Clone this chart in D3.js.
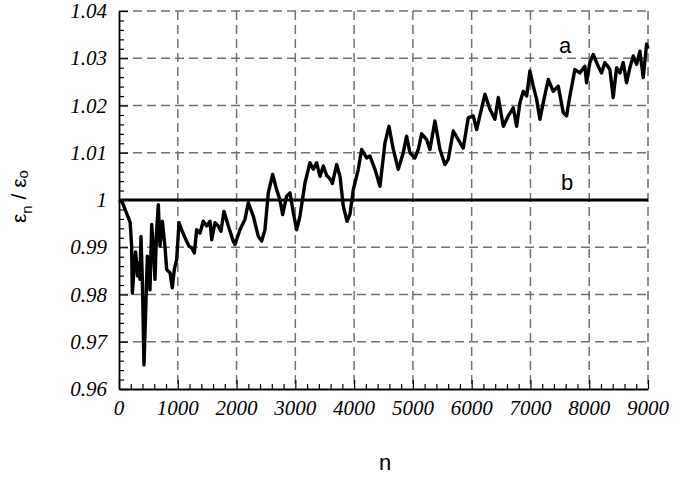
<!DOCTYPE html>
<html>
<head>
<meta charset="utf-8">
<script src="https://cdn.jsdelivr.net/npm/d3@7"></script>
<style>
  body { margin: 0; background: #fff; }
  svg text.tick-label { font-family: 'Times New Roman'; font-style: italic; font-size: 21px; }
  svg text.sans-label { font-family: 'Liberation Sans'; }
</style>
</head>
<body>
<div id="chart"></div>
<script>
var nValues = [0, 50, 160, 190, 215, 227, 260, 283, 317, 340, 357, 374, 397, 425, 453, 482, 527, 556, 584, 612,
    641, 669, 697, 737, 782, 811, 868, 907, 941, 981, 1021, 1066, 1123, 1191, 1236, 1282, 1321, 1378, 1434, 1492,
    1548, 1577, 1633, 1689, 1735, 1786, 1860, 1944, 1973, 2058, 2143, 2200, 2285, 2370, 2427, 2483, 2540, 2614,
    2682, 2739, 2784, 2852, 2909, 2966, 3022, 3079, 3164, 3249, 3306, 3362, 3419, 3476, 3533, 3590, 3630, 3703,
    3760, 3816, 3880, 3930, 3986, 4071, 4128, 4213, 4270, 4355, 4440, 4525, 4593, 4667, 4751, 4836, 4893, 4950,
    5035, 5092, 5149, 5234, 5290, 5375, 5460, 5545, 5602, 5687, 5772, 5857, 5942, 6027, 6084, 6226, 6311, 6396,
    6453, 6538, 6623, 6708, 6765, 6821, 6878, 6936, 6991, 7048, 7105, 7161, 7218, 7303, 7388, 7473, 7558, 7615,
    7671, 7756, 7841, 7926, 7955, 8011, 8068, 8153, 8210, 8267, 8352, 8408, 8465, 8522, 8579, 8635, 8692, 8749,
    8806, 8862, 8919, 8976, 9000];
var ratioA = [1.000, 0.9997, 0.9962, 0.9952, 0.9902, 0.9803, 0.986, 0.989, 0.9839, 0.9868, 0.9832, 0.9923, 0.9832, 0.9651, 0.9761, 0.9881, 0.981, 0.9948, 0.9902, 0.9832,
    0.9937, 0.999, 0.9902, 0.9955, 0.9902, 0.9853, 0.9846, 0.9814, 0.9853, 0.9874, 0.9952, 0.9937, 0.992, 0.9902, 0.9899, 0.9888, 0.9937, 0.993, 0.9955, 0.9945,
    0.9955, 0.9916, 0.9952, 0.9945, 0.9934, 0.9976, 0.9945, 0.9913, 0.9906, 0.9937, 0.9959, 0.9994, 0.9966, 0.9923, 0.9913, 0.9937, 1.0015, 1.0054,
    1.0022, 1.0000, 0.9969, 1.0008, 1.0015, 0.9973, 0.9937, 0.9966, 1.0036, 1.0079, 1.0065, 1.0079, 1.0050, 1.0072, 1.0052, 1.0045, 1.0035, 1.0075,
    1.0050, 0.9987, 0.9955, 0.9970, 1.0022, 1.0065, 1.0107, 1.0089, 1.0093, 1.0065, 1.0029, 1.0121, 1.0156, 1.0107, 1.0065, 1.0100, 1.0135, 1.0100,
    1.0089, 1.0107, 1.0140, 1.0128, 1.0107, 1.0167, 1.0107, 1.0075, 1.0086, 1.0146, 1.0128, 1.0110, 1.0174, 1.0178, 1.0149, 1.0224, 1.0192, 1.0171,
    1.0217, 1.0156, 1.0178, 1.0195, 1.0156, 1.0206, 1.0230, 1.0220, 1.0273, 1.0241, 1.0213, 1.0171, 1.0206, 1.0255, 1.0230, 1.0241, 1.0185, 1.0178,
    1.0220, 1.0276, 1.0269, 1.0283, 1.0248, 1.0291, 1.0308, 1.0283, 1.0269, 1.0291, 1.0276, 1.0217, 1.0280, 1.0269, 1.0291, 1.0248, 1.0280, 1.0305,
    1.0287, 1.0315, 1.0259, 1.0330, 1.0320];
// series b is constant
var ratioB = 1.0;

var xTicks = [0, 1000, 2000, 3000, 4000, 5000, 6000, 7000, 8000, 9000];
var yTicks = [0.96, 0.97, 0.98, 0.99, 1, 1.01, 1.02, 1.03, 1.04];

var svgWidth = 697;
var svgHeight = 493;
var margin = { top: 11, right: 49, bottom: 104, left: 119 };
var width = svgWidth - margin.left - margin.right;
var height = svgHeight - margin.top - margin.bottom;

var svg = d3.select('#chart')
    .append('svg')
    .attr('width', svgWidth)
    .attr('height', svgHeight);

var xScale = d3.scaleLinear().domain([0, 9000]).range([margin.left, margin.left + width]);
var yScale = d3.scaleLinear().domain([0.96, 1.04]).range([margin.top + height, margin.top]);

// dashed grid
var gridColor = '#707070';
svg.append('g')
    .selectAll('line')
    .data(xTicks.filter(d => d > 0))
    .enter()
    .append('line')
    .attr('x1', d => xScale(d)).attr('x2', d => xScale(d))
    .attr('y1', yScale(1.04)).attr('y2', yScale(0.96))
    .attr('stroke', gridColor)
    .attr('stroke-width', 1.5)
    .attr('stroke-dasharray', '9,5');

svg.append('g')
    .selectAll('line')
    .data(yTicks.filter(d => d > 0.96))
    .enter()
    .append('line')
    .attr('x1', xScale(0)).attr('x2', xScale(9000))
    .attr('y1', d => yScale(d)).attr('y2', d => yScale(d))
    .attr('stroke', gridColor)
    .attr('stroke-width', 1.5)
    .attr('stroke-dasharray', '9,5');

// axes: minor ticks point inward
var xMinor = d3.range(0, 9001, 200);
var yMinor = d3.range(0, 41).map(i => 0.96 + i * 0.002);

var xAxisG = svg.append('g').attr('transform', `translate(0, ${yScale(0.96)})`);
xAxisG.call(d3.axisBottom(xScale).tickValues(xMinor).tickSizeInner(-5).tickSizeOuter(0).tickFormat(''));
xAxisG.selectAll('.tick line')
    .attr('y2', d => (d % 1000 === 0 ? -9 : -5));

var yAxisG = svg.append('g').attr('transform', `translate(${xScale(0)}, 0)`);
yAxisG.call(d3.axisLeft(yScale).tickValues(yMinor).tickSizeInner(-5).tickSizeOuter(0).tickFormat(''));
yAxisG.selectAll('.tick line')
    .attr('x2', (d, i) => (i % 5 === 0 ? 9 : 5));

[xAxisG, yAxisG].forEach(g => {
    g.attr('font-family', null).attr('font-size', null);
    g.select('.domain').attr('stroke', '#000').attr('stroke-width', 1.8);
    g.selectAll('.tick line').attr('stroke', '#000').attr('stroke-width', 1.2);
    g.selectAll('.tick text').remove();
});

// tick labels (serif digits are 0.5em wide, the dot 0.25em)
var labelSize = 21;
function labelWidth(s) {
    var w = 0;
    for (var c of s) w += (c === '.' ? 0.25 : 0.5);
    return w * labelSize;
}
var fmtY = d => (d === 1 ? '1' : d3.format('.2f')(d));

svg.append('g')
    .selectAll('text')
    .data(xTicks)
    .enter()
    .append('text')
    .attr('class', 'tick-label')
    .attr('x', d => xScale(d) - labelWidth(String(d)) / 2)
    .attr('y', yScale(0.96) + 26)
    .text(d => String(d));

svg.append('g')
    .selectAll('text')
    .data(yTicks)
    .enter()
    .append('text')
    .attr('class', 'tick-label')
    .attr('x', d => xScale(0) - 12 - labelWidth(fmtY(d)))
    .attr('y', d => yScale(d) + 7)
    .text(fmtY);

// line b
svg.append('line')
    .attr('x1', xScale(0)).attr('x2', xScale(9000))
    .attr('y1', yScale(ratioB)).attr('y2', yScale(ratioB))
    .attr('stroke', '#000')
    .attr('stroke-width', 3);

// line a
var lineA = d3.line()
    .x((d, i) => xScale(nValues[i]))
    .y(d => yScale(d));

svg.append('path')
    .datum(ratioA)
    .attr('d', lineA)
    .attr('fill', 'none')
    .attr('stroke', '#000')
    .attr('stroke-width', 3.4)
    .attr('stroke-linejoin', 'round');

// curve labels
svg.append('text')
    .attr('class', 'sans-label')
    .attr('x', 559).attr('y', 53)
    .attr('font-size', 22)
    .text('a');
svg.append('text')
    .attr('class', 'sans-label')
    .attr('x', 561).attr('y', 190)
    .attr('font-size', 22)
    .text('b');

// axis titles
svg.append('text')
    .attr('class', 'sans-label')
    .attr('x', 379).attr('y', 470)
    .attr('font-size', 22)
    .text('n');

var yTitle = svg.append('text')
    .attr('class', 'sans-label')
    .attr('transform', 'translate(26, 223) rotate(-90)')
    .attr('font-size', 21);
yTitle.append('tspan').text('ε');
yTitle.append('tspan').attr('dy', 6).attr('font-size', 15).text('n');
yTitle.append('tspan').attr('dy', -6).text(' / ε');
yTitle.append('tspan').attr('dy', 2).attr('font-size', 15).text('o');
</script>
</body>
</html>
